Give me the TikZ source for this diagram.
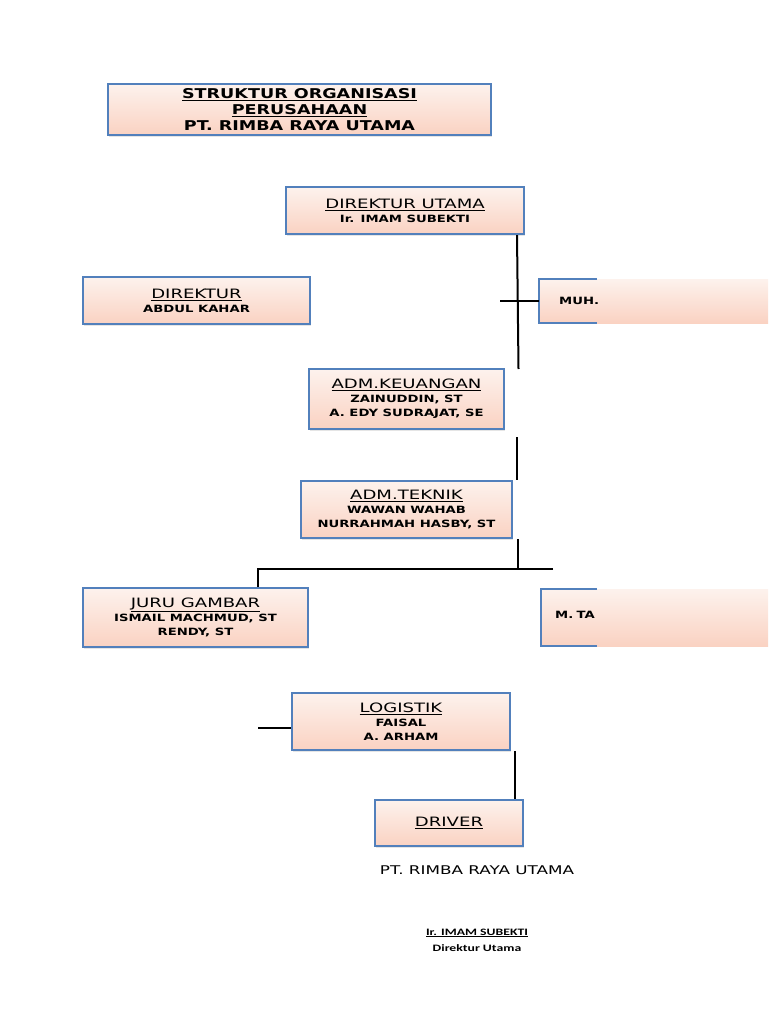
\documentclass[tikz,border=0pt]{standalone}
\usepackage{fontspec}
\usetikzlibrary{calc,shadows}
\newfontfamily\dv[FakeStretch=1.4]{DejaVu Sans}
\newfontfamily\dvn[FakeStretch=1.32]{DejaVu Sans}
\newfontfamily\dvt[FakeStretch=1.3]{DejaVu Sans}
\newfontfamily\cb[FakeStretch=1.4]{Carlito}
\definecolor{bordblue}{RGB}{82,128,188}
\definecolor{filltop}{RGB}{253,242,237}
\definecolor{fillbot}{RGB}{250,210,194}
\newcommand{\hd}[1]{{\fontsize{12.9}{14}\selectfont\underline{#1}}}
\newcommand{\nm}[1]{{\dvn\bfseries\fontsize{10}{14}\selectfont #1}}
\tikzset{
  box/.style={draw=bordblue, line width=2.2pt, top color=filltop, bottom color=fillbot,
    align=center, inner sep=0pt, font=\dv\fontsize{10}{14}\selectfont,
    drop shadow={opacity=0.2, shadow xshift=1pt, shadow yshift=-2pt}},
  openbox/.style={top color=filltop, bottom color=fillbot, inner sep=0pt,
    font=\dv\fontsize{10}{14}\selectfont},
  border/.style={draw=bordblue, line width=2.2pt},
  conn/.style={draw=black, line width=2pt},
  thin/.style={draw=black, line width=1.3pt}
}
\begin{document}
\begin{tikzpicture}[x=1pt,y=-1pt]
\useasboundingbox[fill=white] (0,0) rectangle (768,1024);

% title
\node[box, minimum width=383, minimum height=51, font=\dvt\bfseries\fontsize{13.5}{16}\selectfont] (title) at (299.5,109.5)
  {\underline{STRUKTUR ORGANISASI}\\\underline{PERUSAHAAN}\\PT. RIMBA RAYA UTAMA};

% boxes
\node[box, minimum width=238, minimum height=47] (du) at (405,210.5)
  {\hd{DIREKTUR UTAMA}\\\nm{Ir. IMAM SUBEKTI}};
\node[box, minimum width=227, minimum height=47] (dir) at (196.5,300.5)
  {\hd{DIREKTUR}\\\nm{ABDUL KAHAR}};
\node[box, minimum width=195, minimum height=60] (keu) at (406.5,399)
  {\hd{ADM.KEUANGAN}\\\nm{ZAINUDDIN, ST}\\\nm{A. EDY SUDRAJAT, SE}};
\node[box, minimum width=211, minimum height=57] (tek) at (406.5,509.5)
  {\hd{ADM.TEKNIK}\\\nm{WAWAN WAHAB}\\\nm{NURRAHMAH HASBY, ST}};
\node[box, minimum width=225, minimum height=59] (jg) at (195.5,617.5)
  {\hd{JURU GAMBAR}\\\nm{ISMAIL MACHMUD, ST}\\\nm{RENDY, ST}};
\node[box, minimum width=218, minimum height=57] (log) at (401,721.5)
  {\hd{LOGISTIK}\\\nm{FAISAL}\\\nm{A. ARHAM}};
\node[box, minimum width=148, minimum height=46] (drv) at (449,823)
  {\hd{DRIVER}};

% cut-off boxes on the right
\node[openbox, anchor=west, minimum height=44, inner xsep=20pt, text width=189pt, align=left] (muh) at (539,301)
  {\nm{MUH.}};
\draw[border] ($(muh.north west)+(58,0)$) -- (muh.north west) -- (muh.south west) -- ($(muh.south west)+(58,0)$);
\node[openbox, anchor=west, minimum height=57, inner xsep=14pt, text width=199pt, align=left] (mta) at (541,617.5)
  {\raisebox{5pt}{\nm{M. TA}}};
\draw[border] ($(mta.north west)+(56,0)$) -- (mta.north west) -- (mta.south west) -- ($(mta.south west)+(56,0)$);

% connectors
\coordinate (v1) at (518.5,369);
\draw[conn] (du.south -| 517,0) -- (v1);
\coordinate (t1) at (500,301);
\draw[thin] (t1) -- (muh.west);
\coordinate (v2) at (517,437);
\draw[conn] (v2) -- (v2 |- tek.north);
\coordinate (j) at (518,569);
\coordinate (h1) at (553,569);
\coordinate (k) at (258,569);
\draw[conn] (tek.south -| j) -- (j);
\draw[conn] (h1) -- (k) -- (k |- jg.north);
\coordinate (l1) at (258,728);
\draw[conn] (l1) -- (l1 -| log.west);
\coordinate (d1) at (515,751);
\draw[conn] (d1) -- (d1 |- drv.north);

% footer texts
\node[font=\dv\fontsize{12}{14}\selectfont, inner sep=0pt] (pt) at (477,870) {PT. RIMBA RAYA UTAMA};
\node[font=\cb\bfseries\fontsize{9.8}{16}\selectfont, align=center, inner sep=0pt] (sig) at (477,940)
  {\underline{Ir. IMAM SUBEKTI}\\Direktur Utama};
\end{tikzpicture}
\end{document}
